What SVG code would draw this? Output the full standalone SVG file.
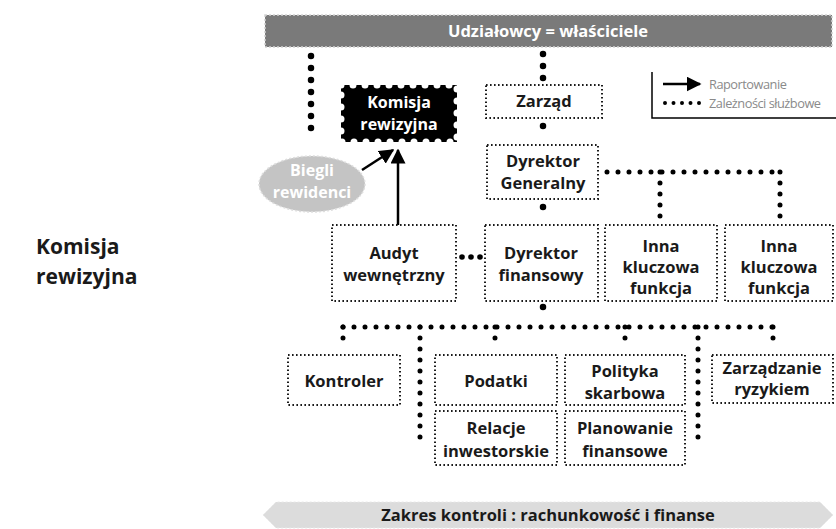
<svg xmlns="http://www.w3.org/2000/svg" width="836" height="529" viewBox="0 0 836 529">
  <defs>
    <style>
      .t { font-family: "Open Sans", "Liberation Sans", sans-serif; font-weight: 700; font-size: 16.5px; fill: #1a1a1a; text-anchor: middle; }
      .w { fill: #ffffff; }
      .s { font-size: 16px; }
      .box { fill: #ffffff; stroke: #1a1a1a; stroke-width: 2; stroke-dasharray: 1.6 2.4; }
      .dots { fill: none; stroke: #000; stroke-width: 6.5; stroke-linecap: round; stroke-dasharray: 0 12; }
      .dotsS { fill: none; stroke: #000; stroke-width: 5; stroke-linecap: round; stroke-dasharray: 0 11; }
      .arrow { fill: none; stroke: #000; stroke-width: 2.5; marker-end: url(#ah); }
      .leg { font-family: "Open Sans", "Liberation Sans", sans-serif; font-size: 12.8px; letter-spacing: -0.5px; fill: #8a8a8a; }
    </style>
    <marker id="ah" viewBox="0 0 10 10" refX="9" refY="5" markerWidth="6" markerHeight="6" orient="auto" markerUnits="strokeWidth">
      <path d="M0,0 L10,5 L0,10 Z" fill="#000"/>
    </marker>
  </defs>

  <rect width="836" height="529" fill="#ffffff"/>

  <!-- owners bar -->
  <g id="owners">
    <rect x="265" y="15" width="567" height="32" fill="#7a7a7a" stroke="#d2d2d2" stroke-width="1.5" stroke-dasharray="2 2"/>
    <text class="t w" x="548" y="37">Udziałowcy = właściciele</text>
  </g>

  <!-- side title -->
  <g id="side-title">
    <text x="36" y="254" font-family="Open Sans, Liberation Sans, sans-serif" font-weight="700" font-size="21" fill="#1a1a1a">Komisja</text>
    <text x="36" y="284" font-family="Open Sans, Liberation Sans, sans-serif" font-weight="700" font-size="21" fill="#1a1a1a">rewizyjna</text>
  </g>

  <!-- connectors -->
  <g id="connectors">
    <path class="dots" d="M311,56 V140" stroke-dasharray="0 16.5"/>
    <path class="dots" d="M543,54 V80"/>
    <path class="dots" d="M543,126 V138"/>
    <path class="dots" d="M543,207 V219"/>
    <path class="dotsS" d="M607,172 H781"/>
    <path class="dotsS" d="M660,172 V219"/>
    <path class="dotsS" d="M780,172 V219"/>
    <g fill="#000">
      <circle cx="462" cy="257" r="2.8"/>
      <circle cx="471" cy="257" r="2.8"/>
      <circle cx="480" cy="257" r="2.8"/>
    </g>
    <path class="dots" d="M543,307 V319"/>
    <path class="dotsS" d="M343,327 H774"/>
    <path class="dotsS" d="M343,327 V348"/>
    <path class="dotsS" d="M495,327 V348"/>
    <path class="dotsS" d="M625,327 V348"/>
    <path class="dotsS" d="M773,327 V348"/>
    <path class="dotsS" d="M420,327 V438 H430"/>
    <path class="dotsS" d="M698,327 V438 H688"/>
    <path class="arrow" d="M398,225 V150"/>
    <path class="arrow" d="M362,170 L393,150"/>
  </g>

  <!-- audit committee -->
  <g id="komisja">
    <rect x="341" y="85" width="116" height="57" fill="#000" stroke="#fff" stroke-width="7" stroke-linecap="round" stroke-dasharray="0 12"/>
    <text class="t w s" x="399" y="108">Komisja</text>
    <text class="t w s" x="399" y="130">rewizyjna</text>
  </g>

  <!-- auditors -->
  <g id="biegli">
    <ellipse cx="312" cy="184" rx="53" ry="28" fill="#c4c4c4" stroke="#dedede" stroke-width="1.5" stroke-dasharray="2 2"/>
    <text class="t w s" x="312" y="176">Biegli</text>
    <text class="t w s" x="312" y="198">rewidenci</text>
  </g>

  <g id="zarzad">
    <rect class="box" x="486" y="85" width="116" height="33"/>
    <text class="t" x="544" y="107">Zarząd</text>
  </g>

  <g id="dyrektor-generalny">
    <rect class="box" x="487" y="145" width="111" height="54"/>
    <text class="t" x="543" y="167">Dyrektor</text>
    <text class="t" x="543" y="189">Generalny</text>
  </g>

  <g id="audyt">
    <rect class="box" x="332" y="225" width="124" height="76"/>
    <text class="t" x="394" y="259">Audyt</text>
    <text class="t" x="394" y="281">wewnętrzny</text>
  </g>

  <g id="dyrektor-finansowy">
    <rect class="box" x="485" y="225" width="113" height="76"/>
    <text class="t" x="541" y="259">Dyrektor</text>
    <text class="t" x="541" y="281">finansowy</text>
  </g>

  <g id="inna-1">
    <rect class="box" x="605" y="225" width="112" height="76"/>
    <text class="t" x="661" y="252">Inna</text>
    <text class="t" x="661" y="273">kluczowa</text>
    <text class="t" x="661" y="294">funkcja</text>
  </g>

  <g id="inna-2">
    <rect class="box" x="725" y="225" width="108" height="76"/>
    <text class="t" x="779" y="252">Inna</text>
    <text class="t" x="779" y="273">kluczowa</text>
    <text class="t" x="779" y="294">funkcja</text>
  </g>

  <g id="kontroler">
    <rect class="box" x="288" y="355" width="112" height="50"/>
    <text class="t" x="344" y="387">Kontroler</text>
  </g>

  <g id="podatki">
    <rect class="box" x="435" y="355" width="122" height="50"/>
    <text class="t" x="496" y="387">Podatki</text>
  </g>

  <g id="polityka">
    <rect class="box" x="565" y="355" width="120" height="50"/>
    <text class="t" x="625" y="377">Polityka</text>
    <text class="t" x="625" y="399">skarbowa</text>
  </g>

  <g id="ryzyko">
    <rect class="box" x="712" y="355" width="121" height="48"/>
    <text class="t" x="772" y="374">Zarządzanie</text>
    <text class="t" x="772" y="395">ryzykiem</text>
  </g>

  <g id="relacje">
    <rect class="box" x="435" y="411" width="122" height="54"/>
    <text class="t" x="496" y="434">Relacje</text>
    <text class="t" x="496" y="457">inwestorskie</text>
  </g>

  <g id="planowanie">
    <rect class="box" x="565" y="411" width="120" height="54"/>
    <text class="t" x="625" y="434">Planowanie</text>
    <text class="t" x="625" y="457">finansowe</text>
  </g>

  <!-- legend -->
  <g id="legend">
    <path d="M652,72 V118 H836" fill="none" stroke="#000" stroke-width="1.5"/>
    <path d="M663,84 H700" fill="none" stroke="#000" stroke-width="2.5" marker-end="url(#ah)"/>
    <path d="M665,103 H700" fill="none" stroke="#000" stroke-width="4" stroke-linecap="round" stroke-dasharray="0 8.5"/>
    <text class="leg" x="709" y="89">Raportowanie</text>
    <text class="leg" x="709" y="108">Zależności służbowe</text>
  </g>

  <!-- scope banner -->
  <g id="zakres">
    <polygon points="263,515 276,502 820,502 833,515 820,528 276,528" fill="#dcdcdc" stroke="#e8e8e8" stroke-width="1" stroke-dasharray="2 2"/>
    <text class="t" x="548" y="521">Zakres kontroli : rachunkowość i finanse</text>
  </g>
</svg>
